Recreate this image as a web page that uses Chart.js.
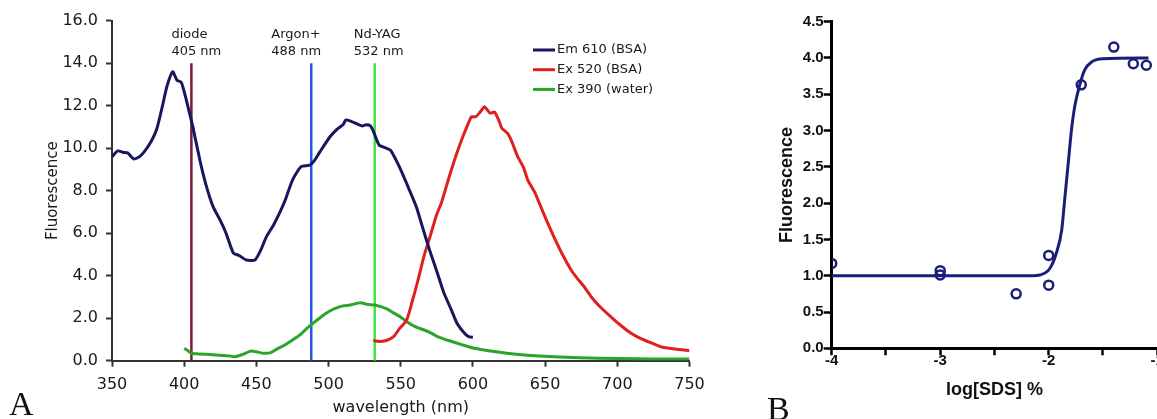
<!DOCTYPE html>
<html>
<head>
<meta charset="utf-8">
<title>Fluorescence spectra / SDS titration</title>
<script src="https://cdn.jsdelivr.net/npm/chart.js@4.4.1/dist/chart.umd.min.js"></script>
<style>
    html, body { margin: 0; padding: 0; background: #fff; width: 1157px; height: 419px; overflow: hidden; }
    #spectraChart { position: absolute; left: 0; top: 0; }
    #sdsChart { position: absolute; left: 720px; top: 0; }
    .panel-tag { position: absolute; font-family: 'Liberation Serif', 'Times New Roman', serif; font-size: 34px; line-height: 34px; color: #111; }
</style>
</head>
<body>
<canvas id="spectraChart" width="720" height="419"></canvas>
<canvas id="sdsChart" width="480" height="419"></canvas>
<div class="panel-tag" style="left:9px; top:387px;">A</div>
<div class="panel-tag" style="left:767px; top:392px;">B</div>

<script>
// ---- Panel A: spectra (wavelength nm -> fluorescence) ----
const EM610_NM  = [350, 354, 358, 361, 365, 369, 372, 377, 381, 385, 388, 392, 395, 398, 401, 406, 411, 415, 420, 425, 429, 434, 438, 443, 449, 453, 457, 462, 466, 470, 475, 481, 487, 490, 494, 501, 506, 510, 512, 516, 519, 523, 526, 529, 531, 535, 540, 543, 549, 556, 561, 565, 570, 575, 580, 585, 589, 594, 597, 600];
const EM610_VAL = [9.6, 9.87, 9.8, 9.77, 9.5, 9.6, 9.8, 10.3, 10.9, 12.0, 12.9, 13.6, 13.2, 13.1, 12.4, 11.0, 9.4, 8.3, 7.25, 6.6, 6.0, 5.07, 4.95, 4.74, 4.74, 5.2, 5.84, 6.4, 6.94, 7.56, 8.5, 9.13, 9.2, 9.4, 9.83, 10.54, 10.9, 11.1, 11.33, 11.25, 11.17, 11.05, 11.1, 11.05, 10.8, 10.15, 10.0, 9.9, 9.13, 8.03, 7.2, 6.3, 5.2, 4.2, 3.17, 2.4, 1.76, 1.3, 1.13, 1.1];

const EX520_NM  = [531, 535, 540, 545, 549, 554, 558, 562, 566, 571, 575, 578, 582, 585, 589, 593, 597, 599, 602, 605, 608, 610, 612, 615, 618, 620, 624, 627, 631, 635, 638, 643, 647, 651, 656, 662, 668, 672, 677, 682, 688, 695, 702, 709, 716, 723, 730, 740, 750];
const EX520_VAL = [0.95, 0.9, 0.95, 1.13, 1.5, 1.9, 2.8, 3.8, 4.9, 6.0, 6.9, 7.4, 8.3, 8.97, 9.8, 10.54, 11.2, 11.48, 11.48, 11.7, 11.95, 11.8, 11.64, 11.7, 11.3, 10.94, 10.7, 10.3, 9.6, 9.1, 8.5, 7.9, 7.25, 6.6, 5.84, 5.0, 4.27, 3.9, 3.48, 3.0, 2.54, 2.1, 1.68, 1.32, 1.05, 0.85, 0.66, 0.55, 0.47];

const EX390_NM  = [400, 403, 405, 410, 420, 428, 435, 440, 446, 450, 455, 460, 465, 470, 475, 480, 485, 490, 495, 500, 505, 510, 515, 522, 527, 532, 540, 545, 550, 555, 560, 569, 575, 583, 593, 600, 616, 630, 646, 674, 700, 725, 750];
const EX390_VAL = [0.58, 0.45, 0.35, 0.32, 0.28, 0.25, 0.19, 0.28, 0.45, 0.42, 0.35, 0.38, 0.58, 0.75, 0.97, 1.2, 1.52, 1.8, 2.07, 2.3, 2.47, 2.58, 2.62, 2.73, 2.65, 2.62, 2.45, 2.25, 2.05, 1.8, 1.6, 1.37, 1.15, 0.95, 0.74, 0.6, 0.42, 0.3, 0.22, 0.14, 0.1, 0.08, 0.08];

const CURVE_LABELS = ['Em 610 (BSA)', 'Ex 520 (BSA)', 'Ex 390 (water)'];

const LASER_NAMES = ['diode', 'Argon+', 'Nd-YAG'];
const LASER_NM    = [405, 488, 532];
const LASER_TOP   = [14, 14, 14];

const SPECTRA_X_TICKS = [350, 400, 450, 500, 550, 600, 650, 700, 750];
const SPECTRA_Y_TICKS = [0, 2, 4, 6, 8, 10, 12, 14, 16];

// ---- Panel B: SDS titration ----
const SDS_LOG   = [-4, -3, -3, -2.3, -2, -2, -1.7, -1.4, -1.22, -1.1];
const SDS_FLUOR = [1.17, 1.07, 1.01, 0.75, 1.28, 0.87, 3.63, 4.15, 3.92, 3.9];

const FIT_LOG   = [-4, -2.15, -2.08, -1.99, -1.93, -1.88, -1.85, -1.82, -1.79, -1.76, -1.71, -1.67, -1.6, -1.5, -1.08];
const FIT_FLUOR = [1.0, 1.0, 1.01, 1.1, 1.31, 1.63, 2.09, 2.55, 3.01, 3.33, 3.65, 3.83, 3.95, 3.99, 4.0];

const SDS_X_TICKS = [-4, -3.5, -3, -2.5, -2, -1.5, -1];
const SDS_Y_TICKS = [0, 0.5, 1, 1.5, 2, 2.5, 3, 3.5, 4, 4.5];

const Figure = (function() {
    'use strict';

    const COLORS = {
        em610: '#17175e',
        ex520: '#e11f1f',
        ex390: '#2aa52a',
        lasers: ['#7d1a3c', '#2357e6', '#3ee63e'],
        axisA: '#333',
        textA: '#1a1a1a',
        sds: '#1c1c7a'
    };

    const FONT_A = "'DejaVu Sans', Verdana, sans-serif";
    const FONT_B = "'Liberation Sans', Arial, sans-serif";

    function pairs(xs, ys) {
        return xs.map((x, i) => ({ x: x, y: ys[i] }));
    }

    // Labels above the laser lines
    const laserLabels = {
        id: 'laserLabels',
        afterDatasetsDraw(chart) {
            const ctx = chart.ctx;
            const xScale = chart.scales.x;
            const shift = [-20, -40, -21];
            ctx.save();
            ctx.font = '13px ' + FONT_A;
            ctx.fillStyle = COLORS.textA;
            ctx.textBaseline = 'middle';
            ctx.textAlign = 'left';
            LASER_NM.forEach((nm, i) => {
                const px = xScale.getPixelForValue(nm) + shift[i];
                ctx.fillText(LASER_NAMES[i], px, 35);
                ctx.fillText(nm + ' nm', px, 52);
            });
            ctx.restore();
        }
    };

    // Small legend inside the plot area
    const insetLegend = {
        id: 'insetLegend',
        afterDatasetsDraw(chart) {
            const ctx = chart.ctx;
            ctx.save();
            ctx.font = '13px ' + FONT_A;
            ctx.fillStyle = COLORS.textA;
            ctx.textBaseline = 'middle';
            CURVE_LABELS.forEach((label, i) => {
                const ds = chart.data.datasets[i];
                const y = 50 + i * 19.7;
                ctx.strokeStyle = ds.borderColor;
                ctx.lineWidth = 3;
                ctx.beginPath();
                ctx.moveTo(533, y);
                ctx.lineTo(555, y);
                ctx.stroke();
                ctx.fillText(label, 557, y);
            });
            ctx.restore();
        }
    };

    function curve(label, xs, ys, color) {
        return {
            label: label,
            data: pairs(xs, ys),
            showLine: true,
            borderColor: color,
            backgroundColor: color,
            borderWidth: 3,
            pointRadius: 0,
            tension: 0.2
        };
    }

    function initSpectra() {
        const datasets = [
            curve(CURVE_LABELS[0], EM610_NM, EM610_VAL, COLORS.em610),
            curve(CURVE_LABELS[1], EX520_NM, EX520_VAL, COLORS.ex520),
            curve(CURVE_LABELS[2], EX390_NM, EX390_VAL, COLORS.ex390)
        ];
        LASER_NM.forEach((nm, i) => {
            datasets.push({
                label: LASER_NAMES[i],
                data: [{ x: nm, y: 0 }, { x: nm, y: LASER_TOP[i] }],
                showLine: true,
                borderColor: COLORS.lasers[i],
                borderWidth: 2.5,
                pointRadius: 0
            });
        });

        new Chart(document.getElementById('spectraChart'), {
            type: 'scatter',
            data: { datasets: datasets },
            plugins: [laserLabels, insetLegend],
            options: {
                responsive: false,
                animation: false,
                layout: { padding: { left: 36, top: 20.7, right: 30.5, bottom: 0 } },
                plugins: { legend: { display: false }, tooltip: { enabled: false } },
                scales: {
                    x: {
                        type: 'linear',
                        min: SPECTRA_X_TICKS[0],
                        max: SPECTRA_X_TICKS[SPECTRA_X_TICKS.length - 1],
                        afterBuildTicks: s => { s.ticks = SPECTRA_X_TICKS.map(v => ({ value: v })); },
                        afterFit: s => { s.height = 58.3; },
                        ticks: { font: { family: FONT_A, size: 16 }, color: COLORS.textA, padding: 8.7, maxRotation: 0 },
                        grid: { drawOnChartArea: false, tickLength: 6, tickColor: COLORS.axisA, tickWidth: 2 },
                        border: { color: COLORS.axisA, width: 2 },
                        title: {
                            display: true, text: 'wavelength (nm)', color: COLORS.textA,
                            font: { family: FONT_A, size: 16 }, padding: { top: 1.4, bottom: 1.4 }
                        }
                    },
                    y: {
                        type: 'linear',
                        min: SPECTRA_Y_TICKS[0],
                        max: SPECTRA_Y_TICKS[SPECTRA_Y_TICKS.length - 1],
                        afterBuildTicks: s => { s.ticks = SPECTRA_Y_TICKS.map(v => ({ value: v })); },
                        afterFit: s => { s.width = 76; },
                        ticks: {
                            font: { family: FONT_A, size: 16 }, color: COLORS.textA, padding: 8,
                            callback: v => Number(v).toFixed(1)
                        },
                        grid: { drawOnChartArea: false, tickLength: 6, tickColor: COLORS.axisA, tickWidth: 2 },
                        border: { color: COLORS.axisA, width: 2 },
                        title: {
                            display: true, text: 'Fluorescence', color: COLORS.textA,
                            font: { family: FONT_A, size: 15 }, padding: { top: 8, bottom: 8 }
                        }
                    }
                }
            }
        });
    }

    function initSds() {
        new Chart(document.getElementById('sdsChart'), {
            type: 'scatter',
            data: {
                datasets: [
                    {
                        label: 'data',
                        data: pairs(SDS_LOG, SDS_FLUOR),
                        borderColor: COLORS.sds,
                        backgroundColor: 'rgba(0,0,0,0)',
                        borderWidth: 2.5,
                        pointRadius: 4.5,
                        pointStyle: 'circle'
                    },
                    {
                        label: 'fit',
                        data: pairs(FIT_LOG, FIT_FLUOR),
                        showLine: true,
                        borderColor: COLORS.sds,
                        borderWidth: 3,
                        pointRadius: 0,
                        cubicInterpolationMode: 'monotone'
                    }
                ]
            },
            options: {
                responsive: false,
                animation: false,
                layout: { padding: { left: 50, top: 21.7, right: 42.8, bottom: 0 } },
                plugins: { legend: { display: false }, tooltip: { enabled: false } },
                scales: {
                    x: {
                        type: 'linear',
                        min: SDS_X_TICKS[0],
                        max: SDS_X_TICKS[SDS_X_TICKS.length - 1],
                        afterBuildTicks: s => { s.ticks = SDS_X_TICKS.map(v => ({ value: v })); },
                        afterFit: s => { s.height = 70.7; },
                        ticks: {
                            font: { family: FONT_B, size: 15, weight: 'bold', lineHeight: 1 }, color: '#111', padding: -2,
                            maxRotation: 0,
                            callback: v => Number.isInteger(v) ? String(v) : ''
                        },
                        grid: { drawOnChartArea: false, tickLength: 7, tickColor: '#000', tickWidth: 2.5 },
                        border: { color: '#000', width: 3 },
                        title: {
                            display: true, text: 'log[SDS] %', color: '#111',
                            font: { family: FONT_B, size: 18, weight: 'bold' }, padding: { top: 18.2, bottom: 18.2 }
                        }
                    },
                    y: {
                        type: 'linear',
                        min: SDS_Y_TICKS[0],
                        max: SDS_Y_TICKS[SDS_Y_TICKS.length - 1],
                        afterBuildTicks: s => { s.ticks = SDS_Y_TICKS.map(v => ({ value: v })); },
                        afterFit: s => { s.width = 61.7; },
                        ticks: {
                            font: { family: FONT_B, size: 15, weight: 'bold' }, color: '#111', padding: 0,
                            callback: v => Number(v).toFixed(1)
                        },
                        grid: { drawOnChartArea: false, tickLength: 8, tickColor: '#000', tickWidth: 2.5 },
                        border: { color: '#000', width: 3 },
                        title: {
                            display: true, text: 'Fluorescence', color: '#111',
                            font: { family: FONT_B, size: 18, weight: 'bold' }, padding: { top: 5.9, bottom: 5.9 }
                        }
                    }
                }
            }
        });
    }

    function init() {
        initSpectra();
        initSds();
    }

    return { init: init };
})();

Figure.init();
</script>
</body>
</html>
